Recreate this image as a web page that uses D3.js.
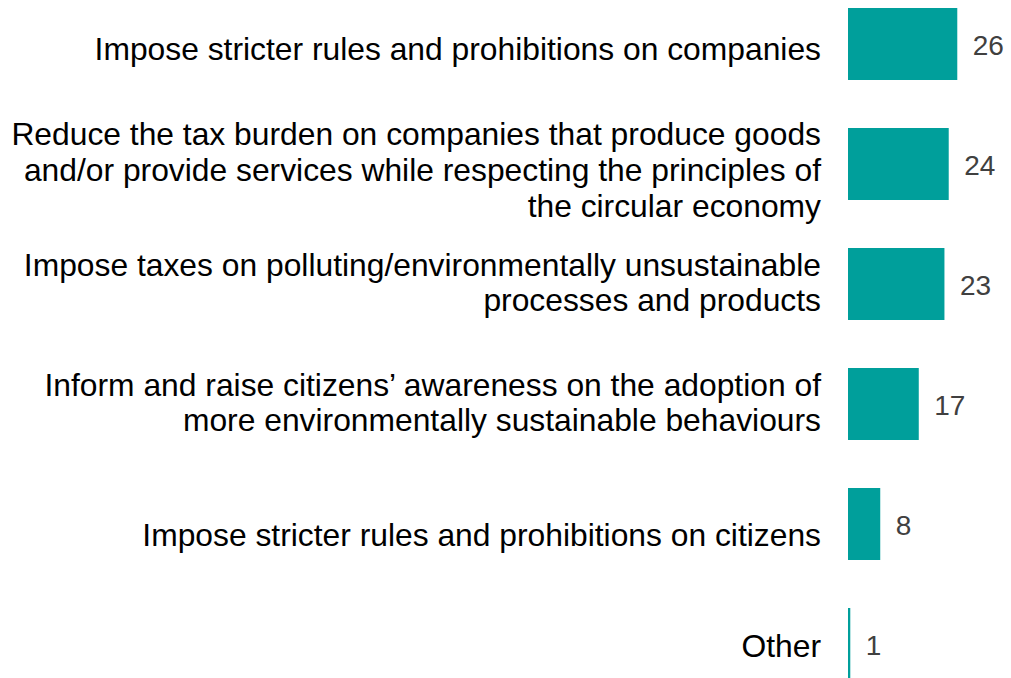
<!DOCTYPE html>
<html>
<head>
<meta charset="utf-8">
<script src="https://cdn.jsdelivr.net/npm/d3@7"></script>
<style>
  body { margin: 0; background: #fff; }
  svg { display: block; font-family: "Liberation Sans", Arial, sans-serif; }
</style>
</head>
<body>
<div id="chart"></div>
<script>
// data
var categories = [
    ["Impose stricter rules and prohibitions on companies"],
    ["Reduce the tax burden on companies that produce goods",
     "and/or provide services while respecting the principles of",
     "the circular economy"],
    ["Impose taxes on polluting/environmentally unsustainable",
     "processes and products"],
    ["Inform and raise citizens\u2019 awareness on the adoption of",
     "more environmentally sustainable behaviours"],
    ["Impose stricter rules and prohibitions on citizens"],
    ["Other"]
];
var values = [26, 24, 23, 17, 8, 1];

var svgWidth = 1011;
var svgHeight = 678;
var barColor = "#009f9b";
var lineH = 35.7;
// small vertical tweaks so the wrapped labels sit like the original
var labelNudge = [5, 6, -1.5, -1.5, 10.5, 2];

var svg = d3.select("#chart")
    .append("svg")
    .attr("width", svgWidth)
    .attr("height", svgHeight);

var idx = d3.range(values.length);

var xScale = d3.scaleLinear()
    .domain([0, 30])
    .range([846, 846 + 30 * 4.28]);

var yScale = d3.scaleBand()
    .domain(idx)
    .range([-16, 704])
    .paddingInner(0.4)
    .paddingOuter(0.2);

svg.selectAll("rect.bar").data(idx).enter()
    .append("rect")
    .attr("class", "bar")
    .attr("x", xScale(0))
    .attr("y", i => yScale(i))
    .attr("width", i => xScale(values[i]) - xScale(0))
    .attr("height", yScale.bandwidth())
    .attr("fill", barColor);

// white axis line that hides the start of the bars
svg.append("line")
    .attr("x1", xScale(0)).attr("x2", xScale(0))
    .attr("y1", 0).attr("y2", svgHeight)
    .attr("stroke", "#fff")
    .attr("stroke-width", 4);

// value labels
svg.selectAll("text.val").data(idx).enter()
    .append("text")
    .attr("class", "val")
    .attr("x", i => xScale(values[i]) + 15.5)
    .attr("y", i => yScale(i) + yScale.bandwidth() / 2 + 11)
    .attr("fill", "#404040")
    .style("font-size", "28px")
    .text(i => values[i]);

// category labels
var cat = svg.selectAll("text.cat").data(idx).enter()
    .append("text")
    .attr("class", "cat")
    .attr("text-anchor", "end")
    .attr("fill", "#000")
    .style("font-size", "31.8px");

cat.each(function(i) {
    var lines = categories[i];
    var mid = yScale(i) + yScale.bandwidth() / 2;
    var n = lines.length;
    d3.select(this).selectAll("tspan").data(lines).enter()
        .append("tspan")
        .attr("x", 821)
        .attr("y", (d, j) => mid + (j - (n - 1) / 2) * lineH + 11 + labelNudge[i])
        .text(d => d);
});
</script>
</body>
</html>
